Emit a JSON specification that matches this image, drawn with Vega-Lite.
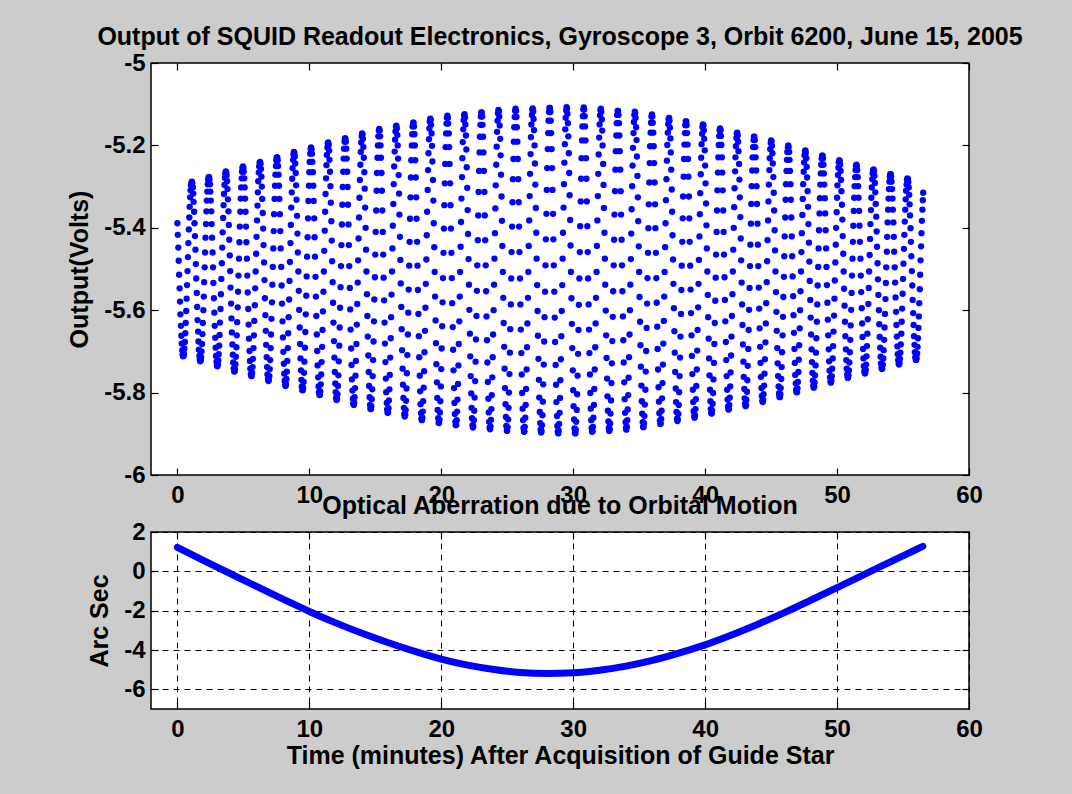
{
  "$schema": "https://vega.github.io/schema/vega-lite/v6.json",
  "background": "#cccccc",
  "padding": {"left": 66, "top": 24, "right": 130, "bottom": 130},
  "config": {
    "font": "Liberation Sans",
    "view": {"fill": "#ffffff", "stroke": "#000000", "strokeWidth": 1.5},
    "axis": {
      "domain": false,
      "grid": false,
      "ticks": true,
      "tickSize": -7,
      "tickColor": "#000000",
      "tickWidth": 1.2,
      "labelFont": "Liberation Sans",
      "labelFontSize": 24,
      "labelFontWeight": "bold",
      "labelColor": "#000000",
      "labelFlush": false,
      "labelOverlap": false,
      "titleFont": "Liberation Sans",
      "titleFontSize": 25,
      "titleFontWeight": "bold",
      "titleColor": "#000000"
    },
    "title": {"font": "Liberation Sans", "fontSize": 25, "fontWeight": "bold", "color": "#000000", "offset": 1, "anchor": "middle", "frame": "group"}
  },
  "spacing": 57,
  "bounds": "flush",
  "vconcat": [
    {
      "width": 818,
      "height": 412,
      "title": "Output of SQUID Readout Electronics, Gyroscope 3, Orbit 6200, June 15, 2005",
      "data": {
        "format": {"type": "csv", "parse": {"t": "number", "v": "number"}},
        "values": "t,v\n0,-5.389\n0.03,-5.417\n0.07,-5.448\n0.1,-5.48\n0.13,-5.514\n0.17,-5.547\n0.2,-5.579\n0.23,-5.61\n0.27,-5.638\n0.3,-5.662\n0.33,-5.681\n0.37,-5.697\n0.4,-5.707\n0.43,-5.712\n0.47,-5.711\n0.5,-5.705\n0.53,-5.693\n0.57,-5.677\n0.6,-5.656\n0.63,-5.631\n0.67,-5.602\n0.7,-5.572\n0.73,-5.539\n0.77,-5.505\n0.8,-5.471\n0.83,-5.437\n0.87,-5.404\n0.9,-5.375\n0.93,-5.349\n0.97,-5.326\n1,-5.309\n1.03,-5.297\n1.07,-5.29\n1.1,-5.288\n1.13,-5.292\n1.17,-5.302\n1.2,-5.317\n1.23,-5.337\n1.27,-5.361\n1.3,-5.389\n1.33,-5.42\n1.37,-5.453\n1.4,-5.488\n1.43,-5.523\n1.47,-5.558\n1.5,-5.592\n1.53,-5.624\n1.57,-5.652\n1.6,-5.676\n1.63,-5.696\n1.67,-5.711\n1.7,-5.72\n1.73,-5.724\n1.77,-5.722\n1.8,-5.714\n1.83,-5.7\n1.87,-5.682\n1.9,-5.658\n1.93,-5.631\n1.97,-5.6\n2,-5.567\n2.03,-5.532\n2.07,-5.496\n2.1,-5.46\n2.13,-5.424\n2.17,-5.391\n2.2,-5.36\n2.23,-5.334\n2.27,-5.312\n2.3,-5.294\n2.33,-5.283\n2.37,-5.277\n2.4,-5.277\n2.43,-5.283\n2.47,-5.294\n2.5,-5.312\n2.53,-5.334\n2.57,-5.36\n2.6,-5.391\n2.63,-5.424\n2.67,-5.46\n2.7,-5.496\n2.73,-5.534\n2.77,-5.571\n2.8,-5.606\n2.83,-5.638\n2.87,-5.667\n2.9,-5.691\n2.93,-5.711\n2.97,-5.725\n3,-5.734\n3.03,-5.736\n3.07,-5.732\n3.1,-5.722\n3.13,-5.707\n3.17,-5.686\n3.2,-5.66\n3.23,-5.63\n3.27,-5.597\n3.3,-5.561\n3.33,-5.524\n3.37,-5.486\n3.4,-5.448\n3.43,-5.411\n3.47,-5.376\n3.5,-5.345\n3.53,-5.318\n3.57,-5.296\n3.6,-5.279\n3.63,-5.268\n3.67,-5.263\n3.7,-5.265\n3.73,-5.273\n3.77,-5.287\n3.8,-5.306\n3.83,-5.331\n3.87,-5.36\n3.9,-5.393\n3.93,-5.429\n3.97,-5.467\n4,-5.505\n4.03,-5.545\n4.07,-5.584\n4.1,-5.62\n4.13,-5.654\n4.17,-5.683\n4.2,-5.708\n4.23,-5.727\n4.27,-5.741\n4.3,-5.748\n4.33,-5.749\n4.37,-5.743\n4.4,-5.731\n4.43,-5.713\n4.47,-5.69\n4.5,-5.661\n4.53,-5.629\n4.57,-5.593\n4.6,-5.555\n4.63,-5.516\n4.67,-5.475\n4.7,-5.435\n4.73,-5.397\n4.77,-5.361\n4.8,-5.329\n4.83,-5.302\n4.87,-5.28\n4.9,-5.264\n4.93,-5.254\n4.97,-5.251\n5,-5.254\n5.03,-5.264\n5.07,-5.28\n5.1,-5.302\n5.13,-5.329\n5.17,-5.361\n5.2,-5.397\n5.23,-5.435\n5.27,-5.475\n5.3,-5.516\n5.33,-5.557\n5.37,-5.597\n5.4,-5.635\n5.43,-5.669\n5.47,-5.699\n5.5,-5.723\n5.53,-5.742\n5.57,-5.755\n5.6,-5.76\n5.63,-5.76\n5.67,-5.752\n5.7,-5.738\n5.73,-5.718\n5.77,-5.692\n5.8,-5.661\n5.83,-5.626\n5.87,-5.588\n5.9,-5.547\n5.93,-5.506\n5.97,-5.463\n6,-5.422\n6.03,-5.382\n6.07,-5.346\n6.1,-5.314\n6.13,-5.287\n6.17,-5.266\n6.2,-5.251\n6.23,-5.242\n6.27,-5.24\n6.3,-5.245\n6.33,-5.257\n6.37,-5.276\n6.4,-5.3\n6.43,-5.33\n6.47,-5.364\n6.5,-5.402\n6.53,-5.442\n6.57,-5.484\n6.6,-5.527\n6.63,-5.571\n6.67,-5.612\n6.7,-5.65\n6.73,-5.684\n6.77,-5.714\n6.8,-5.738\n6.83,-5.756\n6.87,-5.767\n6.9,-5.772\n6.93,-5.769\n6.97,-5.76\n7,-5.743\n7.03,-5.721\n7.07,-5.692\n7.1,-5.659\n7.13,-5.621\n7.17,-5.581\n7.2,-5.538\n7.23,-5.495\n7.27,-5.45\n7.3,-5.408\n7.33,-5.367\n7.37,-5.33\n7.4,-5.298\n7.43,-5.271\n7.47,-5.25\n7.5,-5.236\n7.53,-5.229\n7.57,-5.229\n7.6,-5.236\n7.63,-5.25\n7.67,-5.271\n7.7,-5.298\n7.73,-5.33\n7.77,-5.367\n7.8,-5.408\n7.83,-5.45\n7.87,-5.495\n7.9,-5.54\n7.93,-5.584\n7.97,-5.627\n8,-5.666\n8.03,-5.701\n8.07,-5.73\n8.1,-5.754\n8.13,-5.771\n8.17,-5.781\n8.2,-5.784\n8.23,-5.779\n8.27,-5.767\n8.3,-5.749\n8.33,-5.723\n8.37,-5.692\n8.4,-5.656\n8.43,-5.617\n8.47,-5.574\n8.5,-5.529\n8.53,-5.483\n8.57,-5.437\n8.6,-5.393\n8.63,-5.351\n8.67,-5.314\n8.7,-5.281\n8.73,-5.255\n8.77,-5.235\n8.8,-5.222\n8.83,-5.216\n8.87,-5.218\n8.9,-5.227\n8.93,-5.244\n8.97,-5.267\n9,-5.297\n9.03,-5.332\n9.07,-5.371\n9.1,-5.414\n9.13,-5.46\n9.17,-5.506\n9.2,-5.553\n9.23,-5.599\n9.27,-5.642\n9.3,-5.682\n9.33,-5.717\n9.37,-5.746\n9.4,-5.769\n9.43,-5.785\n9.47,-5.794\n9.5,-5.794\n9.53,-5.788\n9.57,-5.774\n9.6,-5.752\n9.63,-5.725\n9.67,-5.691\n9.7,-5.653\n9.73,-5.61\n9.77,-5.565\n9.8,-5.518\n9.83,-5.47\n9.87,-5.423\n9.9,-5.377\n9.93,-5.335\n9.97,-5.298\n10,-5.265\n10.03,-5.24\n10.07,-5.22\n10.1,-5.209\n10.13,-5.205\n10.17,-5.209\n10.2,-5.22\n10.23,-5.24\n10.27,-5.265\n10.3,-5.298\n10.33,-5.335\n10.37,-5.377\n10.4,-5.423\n10.43,-5.47\n10.47,-5.519\n10.5,-5.567\n10.53,-5.614\n10.57,-5.659\n10.6,-5.699\n10.63,-5.734\n10.67,-5.763\n10.7,-5.785\n10.73,-5.799\n10.77,-5.806\n10.8,-5.805\n10.83,-5.797\n10.87,-5.78\n10.9,-5.756\n10.93,-5.726\n10.97,-5.689\n11,-5.648\n11.03,-5.603\n11.07,-5.555\n11.1,-5.506\n11.13,-5.456\n11.17,-5.407\n11.2,-5.361\n11.23,-5.318\n11.27,-5.28\n11.3,-5.248\n11.33,-5.223\n11.37,-5.205\n11.4,-5.195\n11.43,-5.193\n11.47,-5.199\n11.5,-5.213\n11.53,-5.235\n11.57,-5.264\n11.6,-5.299\n11.63,-5.339\n11.67,-5.384\n11.7,-5.431\n11.73,-5.481\n11.77,-5.532\n11.8,-5.582\n11.83,-5.63\n11.87,-5.675\n11.9,-5.715\n11.93,-5.75\n11.97,-5.778\n12,-5.799\n12.03,-5.813\n12.07,-5.818\n12.1,-5.815\n12.13,-5.804\n12.17,-5.784\n12.2,-5.758\n12.23,-5.724\n12.27,-5.686\n12.3,-5.642\n12.33,-5.594\n12.37,-5.544\n12.4,-5.493\n12.43,-5.442\n12.47,-5.392\n12.5,-5.344\n12.53,-5.301\n12.57,-5.264\n12.6,-5.232\n12.63,-5.208\n12.67,-5.191\n12.7,-5.183\n12.73,-5.183\n12.77,-5.191\n12.8,-5.208\n12.83,-5.232\n12.87,-5.264\n12.9,-5.301\n12.93,-5.344\n12.97,-5.392\n13,-5.442\n13.03,-5.493\n13.07,-5.546\n13.1,-5.598\n13.13,-5.647\n13.17,-5.693\n13.2,-5.733\n13.23,-5.768\n13.27,-5.795\n13.3,-5.815\n13.33,-5.827\n13.37,-5.83\n13.4,-5.824\n13.43,-5.811\n13.47,-5.789\n13.5,-5.759\n13.53,-5.723\n13.57,-5.682\n13.6,-5.635\n13.63,-5.585\n13.67,-5.533\n13.7,-5.479\n13.73,-5.426\n13.77,-5.375\n13.8,-5.327\n13.83,-5.284\n13.87,-5.247\n13.9,-5.216\n13.93,-5.193\n13.97,-5.178\n14,-5.171\n14.03,-5.173\n14.07,-5.184\n14.1,-5.204\n14.13,-5.23\n14.17,-5.265\n14.2,-5.305\n14.23,-5.351\n14.27,-5.4\n14.3,-5.453\n14.33,-5.506\n14.37,-5.561\n14.4,-5.614\n14.43,-5.664\n14.47,-5.71\n14.5,-5.75\n14.53,-5.784\n14.57,-5.811\n14.6,-5.83\n14.63,-5.839\n14.67,-5.84\n14.7,-5.833\n14.73,-5.816\n14.77,-5.792\n14.8,-5.76\n14.83,-5.721\n14.87,-5.676\n14.9,-5.627\n14.93,-5.574\n14.97,-5.52\n15,-5.465\n15.03,-5.41\n15.07,-5.358\n15.1,-5.31\n15.13,-5.267\n15.17,-5.23\n15.2,-5.2\n15.23,-5.178\n15.27,-5.164\n15.3,-5.16\n15.33,-5.164\n15.37,-5.178\n15.4,-5.2\n15.43,-5.23\n15.47,-5.267\n15.5,-5.31\n15.53,-5.358\n15.57,-5.41\n15.6,-5.465\n15.63,-5.521\n15.67,-5.576\n15.7,-5.63\n15.73,-5.681\n15.77,-5.726\n15.8,-5.766\n15.83,-5.799\n15.87,-5.825\n15.9,-5.841\n15.93,-5.849\n15.97,-5.848\n16,-5.838\n16.03,-5.819\n16.07,-5.792\n16.1,-5.757\n16.13,-5.715\n16.17,-5.668\n16.2,-5.617\n16.23,-5.562\n16.27,-5.506\n16.3,-5.45\n16.33,-5.395\n16.37,-5.342\n16.4,-5.294\n16.43,-5.251\n16.47,-5.215\n16.5,-5.186\n16.53,-5.166\n16.57,-5.154\n16.6,-5.152\n16.63,-5.159\n16.67,-5.175\n16.7,-5.2\n16.73,-5.232\n16.77,-5.272\n16.8,-5.317\n16.83,-5.368\n16.87,-5.422\n16.9,-5.478\n16.93,-5.535\n16.97,-5.592\n17,-5.646\n17.03,-5.697\n17.07,-5.742\n17.1,-5.781\n17.13,-5.813\n17.17,-5.837\n17.2,-5.852\n17.23,-5.858\n17.27,-5.854\n17.3,-5.842\n17.33,-5.82\n17.37,-5.79\n17.4,-5.753\n17.43,-5.709\n17.47,-5.659\n17.5,-5.606\n17.53,-5.55\n17.57,-5.492\n17.6,-5.434\n17.63,-5.378\n17.67,-5.326\n17.7,-5.278\n17.73,-5.236\n17.77,-5.2\n17.8,-5.173\n17.83,-5.154\n17.87,-5.145\n17.9,-5.145\n17.93,-5.154\n17.97,-5.173\n18,-5.2\n18.03,-5.236\n18.07,-5.278\n18.1,-5.326\n18.13,-5.378\n18.17,-5.434\n18.2,-5.492\n18.23,-5.551\n18.27,-5.609\n18.3,-5.663\n18.33,-5.714\n18.37,-5.759\n18.4,-5.797\n18.43,-5.828\n18.47,-5.85\n18.5,-5.863\n18.53,-5.867\n18.57,-5.861\n18.6,-5.846\n18.63,-5.821\n18.67,-5.788\n18.7,-5.748\n18.73,-5.702\n18.77,-5.65\n18.8,-5.594\n18.83,-5.536\n18.87,-5.477\n18.9,-5.418\n18.93,-5.361\n18.97,-5.308\n19,-5.26\n19.03,-5.219\n19.07,-5.185\n19.1,-5.159\n19.13,-5.142\n19.17,-5.135\n19.2,-5.138\n19.23,-5.15\n19.27,-5.171\n19.3,-5.201\n19.33,-5.239\n19.37,-5.284\n19.4,-5.334\n19.43,-5.389\n19.47,-5.447\n19.5,-5.507\n19.53,-5.567\n19.57,-5.625\n19.6,-5.68\n19.63,-5.731\n19.67,-5.775\n19.7,-5.813\n19.73,-5.842\n19.77,-5.862\n19.8,-5.873\n19.83,-5.874\n19.87,-5.866\n19.9,-5.848\n19.93,-5.821\n19.97,-5.785\n20,-5.743\n20.03,-5.693\n20.07,-5.639\n20.1,-5.581\n20.13,-5.522\n20.17,-5.461\n20.2,-5.402\n20.23,-5.345\n20.27,-5.292\n20.3,-5.245\n20.33,-5.204\n20.37,-5.171\n20.4,-5.147\n20.43,-5.133\n20.47,-5.128\n20.5,-5.133\n20.53,-5.147\n20.57,-5.171\n20.6,-5.204\n20.63,-5.245\n20.67,-5.292\n20.7,-5.345\n20.73,-5.402\n20.77,-5.461\n20.8,-5.522\n20.83,-5.583\n20.87,-5.641\n20.9,-5.696\n20.93,-5.746\n20.97,-5.789\n21,-5.825\n21.03,-5.852\n21.07,-5.871\n21.1,-5.879\n21.13,-5.878\n21.17,-5.867\n21.2,-5.846\n21.23,-5.817\n21.27,-5.779\n21.3,-5.734\n21.33,-5.682\n21.37,-5.627\n21.4,-5.567\n21.43,-5.507\n21.47,-5.446\n21.5,-5.386\n21.53,-5.329\n21.57,-5.277\n21.6,-5.231\n21.63,-5.192\n21.67,-5.161\n21.7,-5.139\n21.73,-5.127\n21.77,-5.124\n21.8,-5.132\n21.83,-5.149\n21.87,-5.176\n21.9,-5.21\n21.93,-5.253\n21.97,-5.303\n22,-5.357\n22.03,-5.415\n22.07,-5.476\n22.1,-5.538\n22.13,-5.599\n22.17,-5.657\n22.2,-5.712\n22.23,-5.76\n22.27,-5.802\n22.3,-5.837\n22.33,-5.862\n22.37,-5.879\n22.4,-5.885\n22.43,-5.881\n22.47,-5.867\n22.5,-5.844\n22.53,-5.812\n22.57,-5.772\n22.6,-5.725\n22.63,-5.671\n22.67,-5.614\n22.7,-5.553\n22.73,-5.491\n22.77,-5.43\n22.8,-5.37\n22.83,-5.313\n22.87,-5.262\n22.9,-5.217\n22.93,-5.179\n22.97,-5.15\n23,-5.13\n23.03,-5.12\n23.07,-5.12\n23.1,-5.13\n23.13,-5.15\n23.17,-5.179\n23.2,-5.217\n23.23,-5.262\n23.27,-5.313\n23.3,-5.37\n23.33,-5.43\n23.37,-5.491\n23.4,-5.554\n23.43,-5.615\n23.47,-5.673\n23.5,-5.727\n23.53,-5.774\n23.57,-5.815\n23.6,-5.848\n23.63,-5.871\n23.67,-5.885\n23.7,-5.889\n23.73,-5.882\n23.77,-5.866\n23.8,-5.84\n23.83,-5.806\n23.87,-5.763\n23.9,-5.714\n23.93,-5.659\n23.97,-5.6\n24,-5.538\n24.03,-5.475\n24.07,-5.413\n24.1,-5.353\n24.13,-5.297\n24.17,-5.247\n24.2,-5.203\n24.23,-5.167\n24.27,-5.14\n24.3,-5.122\n24.33,-5.114\n24.37,-5.117\n24.4,-5.13\n24.43,-5.152\n24.47,-5.184\n24.5,-5.224\n24.53,-5.271\n24.57,-5.324\n24.6,-5.383\n24.63,-5.444\n24.67,-5.507\n24.7,-5.57\n24.73,-5.631\n24.77,-5.689\n24.8,-5.742\n24.83,-5.789\n24.87,-5.828\n24.9,-5.859\n24.93,-5.881\n24.97,-5.892\n25,-5.893\n25.03,-5.884\n25.07,-5.865\n25.1,-5.837\n25.13,-5.8\n25.17,-5.755\n25.2,-5.703\n25.23,-5.646\n25.27,-5.586\n25.3,-5.523\n25.33,-5.459\n25.37,-5.397\n25.4,-5.338\n25.43,-5.282\n25.47,-5.233\n25.5,-5.191\n25.53,-5.156\n25.57,-5.131\n25.6,-5.116\n25.63,-5.111\n25.67,-5.116\n25.7,-5.131\n25.73,-5.156\n25.77,-5.191\n25.8,-5.233\n25.83,-5.282\n25.87,-5.338\n25.9,-5.397\n25.93,-5.459\n25.97,-5.523\n26,-5.586\n26.03,-5.647\n26.07,-5.704\n26.1,-5.756\n26.13,-5.801\n26.17,-5.839\n26.2,-5.867\n26.23,-5.886\n26.27,-5.895\n26.3,-5.894\n26.33,-5.883\n26.37,-5.861\n26.4,-5.83\n26.43,-5.791\n26.47,-5.744\n26.5,-5.69\n26.53,-5.632\n26.57,-5.57\n26.6,-5.507\n26.63,-5.444\n26.67,-5.382\n26.7,-5.323\n26.73,-5.269\n26.77,-5.221\n26.8,-5.18\n26.83,-5.149\n26.87,-5.126\n26.9,-5.113\n26.93,-5.11\n26.97,-5.118\n27,-5.136\n27.03,-5.163\n27.07,-5.2\n27.1,-5.244\n27.13,-5.295\n27.17,-5.352\n27.2,-5.412\n27.23,-5.475\n27.27,-5.539\n27.3,-5.602\n27.33,-5.662\n27.37,-5.718\n27.4,-5.769\n27.43,-5.812\n27.47,-5.847\n27.5,-5.874\n27.53,-5.89\n27.57,-5.897\n27.6,-5.893\n27.63,-5.879\n27.67,-5.855\n27.7,-5.822\n27.73,-5.78\n27.77,-5.732\n27.8,-5.676\n27.83,-5.617\n27.87,-5.555\n27.9,-5.491\n27.93,-5.428\n27.97,-5.366\n28,-5.308\n28.03,-5.255\n28.07,-5.209\n28.1,-5.17\n28.13,-5.14\n28.17,-5.119\n28.2,-5.109\n28.23,-5.109\n28.27,-5.119\n28.3,-5.14\n28.33,-5.17\n28.37,-5.209\n28.4,-5.255\n28.43,-5.308\n28.47,-5.366\n28.5,-5.428\n28.53,-5.491\n28.57,-5.555\n28.6,-5.618\n28.63,-5.677\n28.67,-5.733\n28.7,-5.781\n28.73,-5.823\n28.77,-5.857\n28.8,-5.881\n28.83,-5.895\n28.87,-5.899\n28.9,-5.892\n28.93,-5.876\n28.97,-5.849\n29,-5.813\n29.03,-5.77\n29.07,-5.719\n29.1,-5.663\n29.13,-5.602\n29.17,-5.539\n29.2,-5.475\n29.23,-5.412\n29.27,-5.351\n29.3,-5.294\n29.33,-5.242\n29.37,-5.197\n29.4,-5.161\n29.43,-5.133\n29.47,-5.115\n29.5,-5.107\n29.53,-5.11\n29.57,-5.123\n29.6,-5.146\n29.63,-5.178\n29.67,-5.219\n29.7,-5.267\n29.73,-5.321\n29.77,-5.381\n29.8,-5.443\n29.83,-5.507\n29.87,-5.571\n29.9,-5.633\n29.93,-5.692\n29.97,-5.746\n30,-5.794\n30.03,-5.833\n30.07,-5.865\n30.1,-5.887\n30.13,-5.898\n30.17,-5.899\n30.2,-5.89\n30.23,-5.871\n30.27,-5.842\n30.3,-5.804\n30.33,-5.759\n30.37,-5.706\n30.4,-5.648\n30.43,-5.587\n30.47,-5.523\n30.5,-5.459\n30.53,-5.396\n30.57,-5.336\n30.6,-5.281\n30.63,-5.231\n30.67,-5.188\n30.7,-5.154\n30.73,-5.129\n30.77,-5.113\n30.8,-5.108\n30.83,-5.113\n30.87,-5.129\n30.9,-5.154\n30.93,-5.188\n30.97,-5.231\n31,-5.281\n31.03,-5.336\n31.07,-5.396\n31.1,-5.459\n31.13,-5.523\n31.17,-5.586\n31.2,-5.647\n31.23,-5.704\n31.27,-5.756\n31.3,-5.801\n31.33,-5.839\n31.37,-5.867\n31.4,-5.886\n31.43,-5.895\n31.47,-5.894\n31.5,-5.883\n31.53,-5.861\n31.57,-5.83\n31.6,-5.791\n31.63,-5.744\n31.67,-5.69\n31.7,-5.632\n31.73,-5.57\n31.77,-5.507\n31.8,-5.444\n31.83,-5.382\n31.87,-5.323\n31.9,-5.269\n31.93,-5.222\n31.97,-5.181\n32,-5.149\n32.03,-5.127\n32.07,-5.114\n32.1,-5.111\n32.13,-5.119\n32.17,-5.137\n32.2,-5.164\n32.23,-5.2\n32.27,-5.245\n32.3,-5.296\n32.33,-5.352\n32.37,-5.412\n32.4,-5.475\n32.43,-5.538\n32.47,-5.601\n32.5,-5.661\n32.53,-5.716\n32.57,-5.766\n32.6,-5.809\n32.63,-5.844\n32.67,-5.87\n32.7,-5.886\n32.73,-5.893\n32.77,-5.889\n32.8,-5.875\n32.83,-5.851\n32.87,-5.819\n32.9,-5.777\n32.93,-5.729\n32.97,-5.675\n33,-5.616\n33.03,-5.554\n33.07,-5.491\n33.1,-5.429\n33.13,-5.368\n33.17,-5.311\n33.2,-5.259\n33.23,-5.214\n33.27,-5.176\n33.3,-5.146\n33.33,-5.126\n33.37,-5.116\n33.4,-5.116\n33.43,-5.126\n33.47,-5.146\n33.5,-5.176\n33.53,-5.214\n33.57,-5.259\n33.6,-5.311\n33.63,-5.368\n33.67,-5.429\n33.7,-5.491\n33.73,-5.554\n33.77,-5.615\n33.8,-5.673\n33.83,-5.727\n33.87,-5.775\n33.9,-5.816\n33.93,-5.849\n33.97,-5.872\n34,-5.886\n34.03,-5.89\n34.07,-5.883\n34.1,-5.867\n34.13,-5.841\n34.17,-5.806\n34.2,-5.764\n34.23,-5.714\n34.27,-5.659\n34.3,-5.6\n34.33,-5.538\n34.37,-5.476\n34.4,-5.414\n34.43,-5.355\n34.47,-5.299\n34.5,-5.249\n34.53,-5.206\n34.57,-5.17\n34.6,-5.143\n34.63,-5.126\n34.67,-5.118\n34.7,-5.121\n34.73,-5.133\n34.77,-5.156\n34.8,-5.187\n34.83,-5.227\n34.87,-5.274\n34.9,-5.326\n34.93,-5.384\n34.97,-5.445\n35,-5.507\n35.03,-5.568\n35.07,-5.628\n35.1,-5.685\n35.13,-5.737\n35.17,-5.783\n35.2,-5.821\n35.23,-5.851\n35.27,-5.872\n35.3,-5.883\n35.33,-5.884\n35.37,-5.875\n35.4,-5.857\n35.43,-5.829\n35.47,-5.793\n35.5,-5.749\n35.53,-5.699\n35.57,-5.643\n35.6,-5.584\n35.63,-5.522\n35.67,-5.461\n35.7,-5.401\n35.73,-5.343\n35.77,-5.29\n35.8,-5.243\n35.83,-5.202\n35.87,-5.169\n35.9,-5.145\n35.93,-5.13\n35.97,-5.125\n36,-5.13\n36.03,-5.145\n36.07,-5.169\n36.1,-5.202\n36.13,-5.243\n36.17,-5.29\n36.2,-5.343\n36.23,-5.401\n36.27,-5.461\n36.3,-5.522\n36.33,-5.582\n36.37,-5.64\n36.4,-5.694\n36.43,-5.744\n36.47,-5.787\n36.5,-5.822\n36.53,-5.85\n36.57,-5.868\n36.6,-5.876\n36.63,-5.875\n36.67,-5.864\n36.7,-5.844\n36.73,-5.814\n36.77,-5.777\n36.8,-5.732\n36.83,-5.681\n36.87,-5.626\n36.9,-5.567\n36.93,-5.507\n36.97,-5.447\n37,-5.389\n37.03,-5.333\n37.07,-5.282\n37.1,-5.237\n37.13,-5.199\n37.17,-5.169\n37.2,-5.148\n37.23,-5.136\n37.27,-5.133\n37.3,-5.14\n37.33,-5.157\n37.37,-5.183\n37.4,-5.217\n37.43,-5.259\n37.47,-5.307\n37.5,-5.361\n37.53,-5.418\n37.57,-5.477\n37.6,-5.536\n37.63,-5.595\n37.67,-5.651\n37.7,-5.703\n37.73,-5.75\n37.77,-5.79\n37.8,-5.823\n37.83,-5.847\n37.87,-5.863\n37.9,-5.869\n37.93,-5.865\n37.97,-5.852\n38,-5.83\n38.03,-5.799\n38.07,-5.76\n38.1,-5.715\n38.13,-5.664\n38.17,-5.609\n38.2,-5.551\n38.23,-5.492\n38.27,-5.434\n38.3,-5.377\n38.33,-5.324\n38.37,-5.276\n38.4,-5.233\n38.43,-5.198\n38.47,-5.17\n38.5,-5.151\n38.53,-5.142\n38.57,-5.142\n38.6,-5.151\n38.63,-5.17\n38.67,-5.198\n38.7,-5.233\n38.73,-5.276\n38.77,-5.324\n38.8,-5.377\n38.83,-5.434\n38.87,-5.492\n38.9,-5.55\n38.93,-5.607\n38.97,-5.661\n39,-5.711\n39.03,-5.755\n39.07,-5.793\n39.1,-5.823\n39.13,-5.845\n39.17,-5.857\n39.2,-5.861\n39.23,-5.855\n39.27,-5.84\n39.3,-5.816\n39.33,-5.784\n39.37,-5.744\n39.4,-5.698\n39.43,-5.648\n39.47,-5.593\n39.5,-5.536\n39.53,-5.478\n39.57,-5.421\n39.6,-5.367\n39.63,-5.316\n39.67,-5.27\n39.7,-5.23\n39.73,-5.197\n39.77,-5.172\n39.8,-5.156\n39.83,-5.149\n39.87,-5.151\n39.9,-5.163\n39.93,-5.184\n39.97,-5.212\n40,-5.249\n40.03,-5.292\n40.07,-5.341\n40.1,-5.394\n40.13,-5.45\n40.17,-5.506\n40.2,-5.563\n40.23,-5.617\n40.27,-5.669\n40.3,-5.717\n40.33,-5.758\n40.37,-5.793\n40.4,-5.821\n40.43,-5.84\n40.47,-5.85\n40.5,-5.851\n40.53,-5.843\n40.57,-5.827\n40.6,-5.801\n40.63,-5.768\n40.67,-5.728\n40.7,-5.682\n40.73,-5.631\n40.77,-5.577\n40.8,-5.521\n40.83,-5.465\n40.87,-5.41\n40.9,-5.358\n40.93,-5.309\n40.97,-5.266\n41,-5.229\n41.03,-5.199\n41.07,-5.177\n41.1,-5.163\n41.13,-5.159\n41.17,-5.163\n41.2,-5.177\n41.23,-5.199\n41.27,-5.229\n41.3,-5.266\n41.33,-5.309\n41.37,-5.358\n41.4,-5.41\n41.43,-5.465\n41.47,-5.52\n41.5,-5.575\n41.53,-5.627\n41.57,-5.677\n41.6,-5.721\n41.63,-5.76\n41.67,-5.793\n41.7,-5.817\n41.73,-5.834\n41.77,-5.841\n41.8,-5.84\n41.83,-5.83\n41.87,-5.812\n41.9,-5.785\n41.93,-5.751\n41.97,-5.71\n42,-5.664\n42.03,-5.614\n42.07,-5.561\n42.1,-5.506\n42.13,-5.453\n42.17,-5.4\n42.2,-5.35\n42.23,-5.304\n42.27,-5.263\n42.3,-5.229\n42.33,-5.202\n42.37,-5.182\n42.4,-5.171\n42.43,-5.169\n42.47,-5.176\n42.5,-5.191\n42.53,-5.214\n42.57,-5.245\n42.6,-5.283\n42.63,-5.326\n42.67,-5.374\n42.7,-5.426\n42.73,-5.479\n42.77,-5.533\n42.8,-5.586\n42.83,-5.636\n42.87,-5.683\n42.9,-5.725\n42.93,-5.762\n42.97,-5.791\n43,-5.814\n43.03,-5.827\n43.07,-5.833\n43.1,-5.83\n43.13,-5.818\n43.17,-5.798\n43.2,-5.77\n43.23,-5.735\n43.27,-5.694\n43.3,-5.648\n43.33,-5.599\n43.37,-5.546\n43.4,-5.493\n43.43,-5.441\n43.47,-5.39\n43.5,-5.342\n43.53,-5.299\n43.57,-5.261\n43.6,-5.229\n43.63,-5.204\n43.67,-5.187\n43.7,-5.179\n43.73,-5.179\n43.77,-5.187\n43.8,-5.204\n43.83,-5.229\n43.87,-5.261\n43.9,-5.299\n43.93,-5.342\n43.97,-5.39\n44,-5.441\n44.03,-5.493\n44.07,-5.545\n44.1,-5.596\n44.13,-5.644\n44.17,-5.689\n44.2,-5.728\n44.23,-5.762\n44.27,-5.789\n44.3,-5.808\n44.33,-5.82\n44.37,-5.823\n44.4,-5.818\n44.43,-5.804\n44.47,-5.783\n44.5,-5.754\n44.53,-5.719\n44.57,-5.678\n44.6,-5.632\n44.63,-5.583\n44.67,-5.532\n44.7,-5.481\n44.73,-5.43\n44.77,-5.382\n44.8,-5.336\n44.83,-5.295\n44.87,-5.26\n44.9,-5.231\n44.93,-5.209\n44.97,-5.194\n45,-5.188\n45.03,-5.19\n45.07,-5.201\n45.1,-5.219\n45.13,-5.244\n45.17,-5.277\n45.2,-5.315\n45.23,-5.358\n45.27,-5.406\n45.3,-5.455\n45.33,-5.506\n45.37,-5.556\n45.4,-5.604\n45.43,-5.65\n45.47,-5.692\n45.5,-5.729\n45.53,-5.76\n45.57,-5.785\n45.6,-5.802\n45.63,-5.81\n45.67,-5.811\n45.7,-5.804\n45.73,-5.789\n45.77,-5.767\n45.8,-5.738\n45.83,-5.702\n45.87,-5.661\n45.9,-5.616\n45.93,-5.568\n45.97,-5.519\n46,-5.469\n46.03,-5.421\n46.07,-5.375\n46.1,-5.332\n46.13,-5.294\n46.17,-5.262\n46.2,-5.235\n46.23,-5.216\n46.27,-5.204\n46.3,-5.2\n46.33,-5.204\n46.37,-5.216\n46.4,-5.235\n46.43,-5.262\n46.47,-5.294\n46.5,-5.332\n46.53,-5.375\n46.57,-5.421\n46.6,-5.469\n46.63,-5.518\n46.67,-5.566\n46.7,-5.612\n46.73,-5.655\n46.77,-5.694\n46.8,-5.728\n46.83,-5.757\n46.87,-5.778\n46.9,-5.793\n46.93,-5.799\n46.97,-5.799\n47,-5.79\n47.03,-5.774\n47.07,-5.75\n47.1,-5.72\n47.13,-5.685\n47.17,-5.644\n47.2,-5.6\n47.23,-5.554\n47.27,-5.506\n47.3,-5.459\n47.33,-5.413\n47.37,-5.369\n47.4,-5.33\n47.43,-5.294\n47.47,-5.264\n47.5,-5.241\n47.53,-5.224\n47.57,-5.214\n47.6,-5.212\n47.63,-5.218\n47.67,-5.231\n47.7,-5.252\n47.73,-5.278\n47.77,-5.311\n47.8,-5.349\n47.83,-5.391\n47.87,-5.436\n47.9,-5.482\n47.93,-5.529\n47.97,-5.575\n48,-5.618\n48.03,-5.659\n48.07,-5.695\n48.1,-5.726\n48.13,-5.752\n48.17,-5.771\n48.2,-5.783\n48.23,-5.788\n48.27,-5.785\n48.3,-5.775\n48.33,-5.758\n48.37,-5.734\n48.4,-5.703\n48.43,-5.668\n48.47,-5.628\n48.5,-5.586\n48.53,-5.54\n48.57,-5.495\n48.6,-5.45\n48.63,-5.406\n48.67,-5.365\n48.7,-5.328\n48.73,-5.295\n48.77,-5.268\n48.8,-5.247\n48.83,-5.232\n48.87,-5.225\n48.9,-5.225\n48.93,-5.232\n48.97,-5.247\n49,-5.268\n49.03,-5.295\n49.07,-5.328\n49.1,-5.365\n49.13,-5.406\n49.17,-5.45\n49.2,-5.495\n49.23,-5.539\n49.27,-5.582\n49.3,-5.623\n49.33,-5.661\n49.37,-5.695\n49.4,-5.724\n49.43,-5.747\n49.47,-5.763\n49.5,-5.773\n49.53,-5.776\n49.57,-5.771\n49.6,-5.76\n49.63,-5.742\n49.67,-5.717\n49.7,-5.687\n49.73,-5.652\n49.77,-5.613\n49.8,-5.572\n49.83,-5.528\n49.87,-5.484\n49.9,-5.441\n49.93,-5.4\n49.97,-5.362\n50,-5.327\n50.03,-5.297\n50.07,-5.272\n50.1,-5.254\n50.13,-5.241\n50.17,-5.236\n50.2,-5.238\n50.23,-5.247\n50.27,-5.262\n50.3,-5.284\n50.33,-5.311\n50.37,-5.344\n50.4,-5.38\n50.43,-5.42\n50.47,-5.463\n50.5,-5.506\n50.53,-5.548\n50.57,-5.589\n50.6,-5.628\n50.63,-5.663\n50.67,-5.695\n50.7,-5.721\n50.73,-5.742\n50.77,-5.756\n50.8,-5.764\n50.83,-5.764\n50.87,-5.758\n50.9,-5.746\n50.93,-5.727\n50.97,-5.702\n51,-5.672\n51.03,-5.637\n51.07,-5.599\n51.1,-5.558\n51.13,-5.516\n51.17,-5.475\n51.2,-5.434\n51.23,-5.395\n51.27,-5.359\n51.3,-5.327\n51.33,-5.299\n51.37,-5.277\n51.4,-5.26\n51.43,-5.25\n51.47,-5.247\n51.5,-5.25\n51.53,-5.26\n51.57,-5.277\n51.6,-5.299\n51.63,-5.327\n51.67,-5.359\n51.7,-5.395\n51.73,-5.434\n51.77,-5.475\n51.8,-5.516\n51.83,-5.556\n51.87,-5.595\n51.9,-5.632\n51.93,-5.665\n51.97,-5.694\n52,-5.717\n52.03,-5.736\n52.07,-5.748\n52.1,-5.753\n52.13,-5.753\n52.17,-5.745\n52.2,-5.732\n52.23,-5.712\n52.27,-5.687\n52.3,-5.657\n52.33,-5.622\n52.37,-5.585\n52.4,-5.546\n52.43,-5.506\n52.47,-5.466\n52.5,-5.427\n52.53,-5.391\n52.57,-5.357\n52.6,-5.327\n52.63,-5.302\n52.67,-5.282\n52.7,-5.268\n52.73,-5.26\n52.77,-5.258\n52.8,-5.263\n52.83,-5.274\n52.87,-5.291\n52.9,-5.314\n52.93,-5.342\n52.97,-5.373\n53,-5.409\n53.03,-5.446\n53.07,-5.486\n53.1,-5.525\n53.13,-5.563\n53.17,-5.6\n53.2,-5.634\n53.23,-5.665\n53.27,-5.691\n53.3,-5.713\n53.33,-5.729\n53.37,-5.739\n53.4,-5.743\n53.43,-5.741\n53.47,-5.732\n53.5,-5.717\n53.53,-5.697\n53.57,-5.672\n53.6,-5.642\n53.63,-5.609\n53.67,-5.573\n53.7,-5.534\n53.73,-5.496\n53.77,-5.458\n53.8,-5.422\n53.83,-5.387\n53.87,-5.356\n53.9,-5.329\n53.93,-5.306\n53.97,-5.288\n54,-5.276\n54.03,-5.27\n54.07,-5.27\n54.1,-5.276\n54.13,-5.288\n54.17,-5.306\n54.2,-5.329\n54.23,-5.356\n54.27,-5.387\n54.3,-5.422\n54.33,-5.458\n54.37,-5.496\n54.4,-5.533\n54.43,-5.569\n54.47,-5.604\n54.5,-5.636\n54.53,-5.664\n54.57,-5.688\n54.6,-5.707\n54.63,-5.721\n54.67,-5.73\n54.7,-5.732\n54.73,-5.728\n54.77,-5.718\n54.8,-5.703\n54.83,-5.683\n54.87,-5.657\n54.9,-5.628\n54.93,-5.596\n54.97,-5.56\n55,-5.524\n55.03,-5.487\n55.07,-5.451\n55.1,-5.417\n55.13,-5.385\n55.17,-5.356\n55.2,-5.331\n55.23,-5.31\n55.27,-5.295\n55.3,-5.284\n55.33,-5.28\n55.37,-5.282\n55.4,-5.289\n55.43,-5.302\n55.47,-5.32\n55.5,-5.343\n55.53,-5.37\n55.57,-5.401\n55.6,-5.434\n55.63,-5.469\n55.67,-5.505\n55.7,-5.54\n55.73,-5.575\n55.77,-5.607\n55.8,-5.636\n55.83,-5.663\n55.87,-5.684\n55.9,-5.702\n55.93,-5.714\n55.97,-5.72\n56,-5.721\n56.03,-5.716\n56.07,-5.705\n56.1,-5.689\n56.13,-5.668\n56.17,-5.643\n56.2,-5.615\n56.23,-5.583\n56.27,-5.549\n56.3,-5.514\n56.33,-5.479\n56.37,-5.445\n56.4,-5.413\n56.43,-5.383\n56.47,-5.356\n56.5,-5.333\n56.53,-5.315"
      },
      "layer": [
        {
          "mark": {"type": "circle", "size": 40, "color": "#0000ff", "opacity": 1},
          "encoding": {
            "x": {
              "field": "t", "type": "quantitative",
              "scale": {"domain": [-2, 60], "nice": false, "zero": false},
              "axis": {"orient": "bottom", "values": [0, 10, 20, 30, 40, 50, 60], "title": null, "labelPadding": 15}
            },
            "y": {
              "field": "v", "type": "quantitative",
              "scale": {"domain": [-6, -5], "nice": false, "zero": false},
              "axis": {
                "orient": "left",
                "values": [-6, -5.8, -5.6, -5.4, -5.2, -5],
                "title": "Output(Volts)",
                "labelExpr": "replace(format(datum.value, '~g'), '\u2212', '-')",
                "labelPadding": 13,
                "titlePadding": 11
              }
            }
          }
        },
        {
          "mark": {"type": "circle", "size": 40, "opacity": 0},
          "encoding": {
            "x": {
              "field": "t", "type": "quantitative",
              "scale": {"domain": [-2, 60], "nice": false, "zero": false},
              "axis": {"orient": "top", "values": [0, 10, 20, 30, 40, 50, 60], "labels": false, "title": null}
            },
            "y": {
              "field": "v", "type": "quantitative",
              "scale": {"domain": [-6, -5], "nice": false, "zero": false},
              "axis": {"orient": "right", "values": [-6, -5.8, -5.6, -5.4, -5.2, -5], "labels": false, "title": null}
            }
          }
        }
      ],
      "resolve": {"axis": {"x": "independent", "y": "independent"}}
    },
    {
      "width": 818,
      "height": 177,
      "title": "Optical Aberration due to Orbital Motion",
      "data": {
        "values": [
          {"t": 0, "a": 1.22}, {"t": 2, "a": 0.55}, {"t": 4, "a": -0.11}, {"t": 6, "a": -0.77},
          {"t": 8, "a": -1.41}, {"t": 10, "a": -2.04}, {"t": 12, "a": -2.62}, {"t": 14, "a": -3.15},
          {"t": 16, "a": -3.63}, {"t": 18, "a": -4.07}, {"t": 20, "a": -4.46}, {"t": 22, "a": -4.77},
          {"t": 24, "a": -4.99}, {"t": 26, "a": -5.14}, {"t": 28, "a": -5.19}, {"t": 30, "a": -5.16},
          {"t": 32, "a": -5.03}, {"t": 34, "a": -4.82}, {"t": 36, "a": -4.53}, {"t": 38, "a": -4.16},
          {"t": 40, "a": -3.74}, {"t": 42, "a": -3.24}, {"t": 44, "a": -2.69}, {"t": 46, "a": -2.1},
          {"t": 48, "a": -1.47}, {"t": 50, "a": -0.83}, {"t": 52, "a": -0.18}, {"t": 54, "a": 0.47},
          {"t": 56, "a": 1.11}, {"t": 56.5, "a": 1.27}
        ]
      },
      "layer": [
        {
          "mark": {"type": "line", "color": "#0000ff", "strokeWidth": 7, "strokeCap": "round", "strokeJoin": "round", "interpolate": "monotone"},
          "encoding": {
            "x": {
              "field": "t", "type": "quantitative",
              "scale": {"domain": [-2, 60], "nice": false, "zero": false},
              "axis": {
                "orient": "bottom",
                "values": [0, 10, 20, 30, 40, 50, 60],
                "title": "Time (minutes) After Acquisition of Guide Star",
                "labelPadding": 15,
                "titlePadding": 2,
                "grid": true, "gridColor": "#000000", "gridDash": [6, 5], "gridWidth": 1, "gridOpacity": 1
              }
            },
            "y": {
              "field": "a", "type": "quantitative",
              "scale": {"domain": [-7, 2], "nice": false, "zero": false},
              "axis": {
                "orient": "left",
                "values": [-6, -4, -2, 0, 2],
                "title": "Arc Sec",
                "labelExpr": "replace(format(datum.value, '~g'), '\u2212', '-')",
                "labelPadding": 13,
                "titlePadding": 11,
                "grid": true, "gridColor": "#000000", "gridDash": [6, 5], "gridWidth": 1, "gridOpacity": 1
              }
            }
          }
        },
        {
          "mark": {"type": "line", "opacity": 0},
          "encoding": {
            "x": {
              "field": "t", "type": "quantitative",
              "scale": {"domain": [-2, 60], "nice": false, "zero": false},
              "axis": {"orient": "top", "values": [0, 10, 20, 30, 40, 50, 60], "labels": false, "title": null}
            },
            "y": {
              "field": "a", "type": "quantitative",
              "scale": {"domain": [-7, 2], "nice": false, "zero": false},
              "axis": {"orient": "right", "values": [-6, -4, -2, 0, 2], "labels": false, "title": null}
            }
          }
        }
      ],
      "resolve": {"axis": {"x": "independent", "y": "independent"}}
    }
  ]
}
